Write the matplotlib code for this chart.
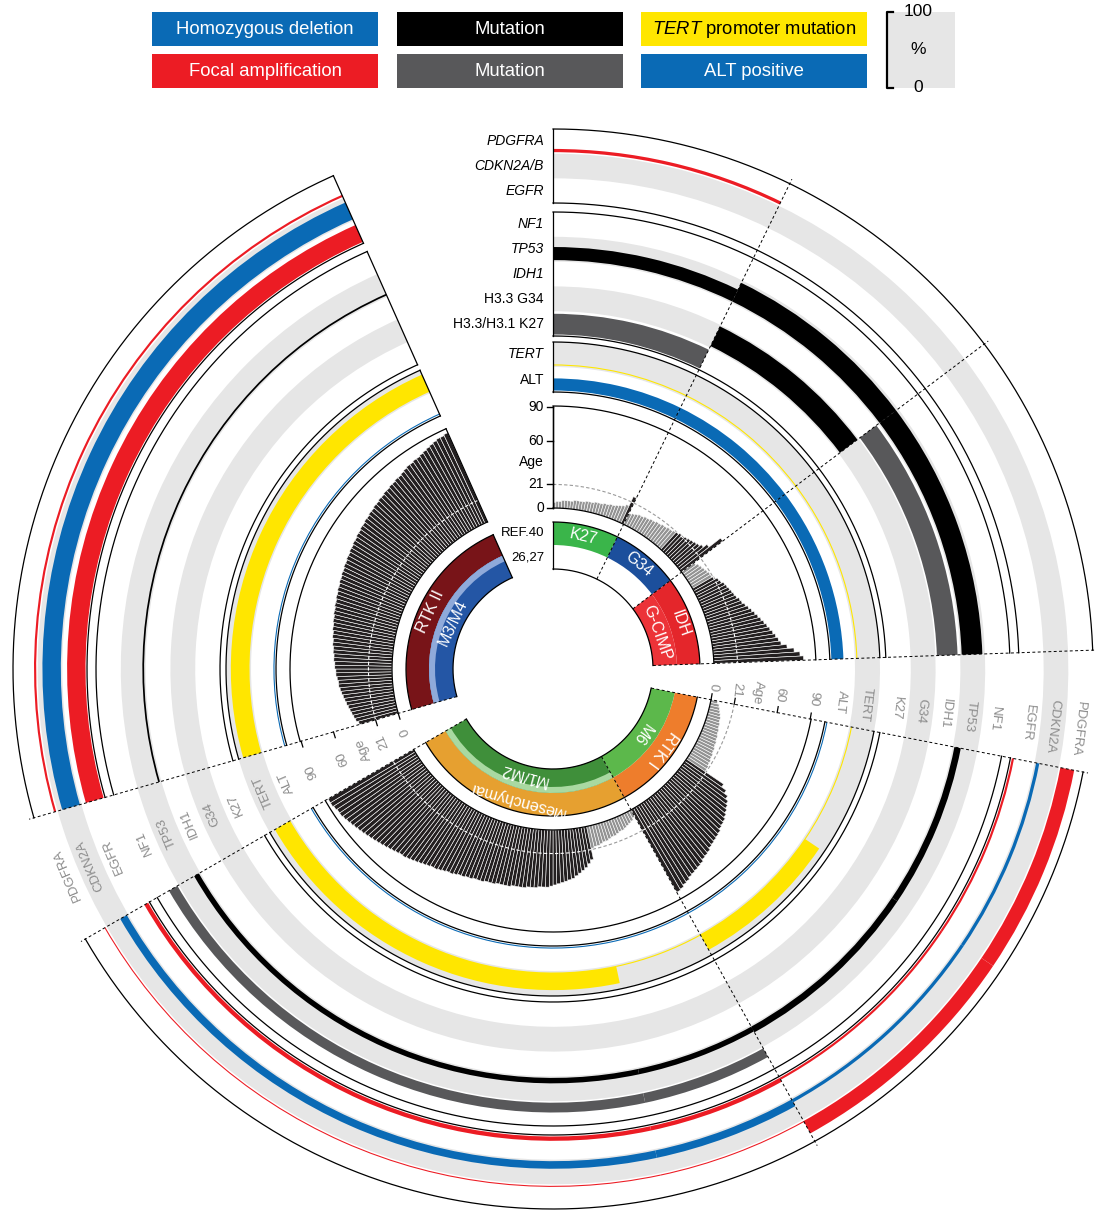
import numpy as np
import matplotlib.pyplot as plt
from matplotlib.patches import Rectangle

plt.rcParams['font.family'] = ['Liberation Sans', 'DejaVu Sans']
plt.rcParams['mathtext.fontset'] = 'custom'
plt.rcParams['mathtext.rm'] = 'Liberation Sans'
plt.rcParams['mathtext.it'] = 'Liberation Sans:italic'

# subgroups, clockwise from 12 o'clock
subgroups = ["K27", "G34", "IDH", "RTK I", "Mesenchymal", "RTK II"]
meth_labels = ["", "", "G-CIMP", "M6", "M1/M2", "M3/M4"]

# age of each tumour (one bar per tumour, sorted inside each subgroup)
ages_k27 = [5, 6, 6, 7, 7, 7, 7, 8, 8, 8, 8, 9, 9, 9, 10, 10, 10, 11, 11, 12, 12, 13, 14, 15, 17, 26]
ages_g34 = [11, 12, 13, 14, 14, 15, 15, 16, 16, 17, 17, 18, 18, 19, 19, 20,
            21, 22, 22, 23, 24, 25, 26, 27, 29, 33, 46]
ages_idh = [14, 16, 17, 18, 19, 20, 20,
            22, 24, 25, 27, 28, 29, 30, 31, 32, 34, 35, 37, 39, 41, 43, 45, 47, 49, 51,
            53, 55, 57, 59, 61, 66, 72, 77, 80]
ages_rtk1 = [6, 8, 9, 10, 11, 12, 12, 13, 13, 14, 14, 15, 15, 16, 16, 17, 17, 18, 18, 19,
             19, 20, 20,
             40, 45, 49, 52, 54, 56, 58, 60, 61, 62, 64, 65, 66, 67, 68, 70, 71, 72, 74, 75,
             76, 77, 78, 80, 81, 83, 84]
ages_mes = [7, 9, 10, 11, 12, 13, 13, 14, 15, 15, 16, 17, 17, 18, 19, 19, 20,
            30, 33, 36, 38, 40, 42, 44, 45, 46, 47, 48, 49, 50, 51,
            51, 51, 52, 52, 52, 53, 53, 53, 53, 54, 54, 54, 54, 55, 55, 55, 56, 56, 56, 57, 57,
            58, 58, 59, 60, 60, 61, 62, 63, 63, 64, 65, 66, 67, 68, 69, 70, 70,
            71, 72, 73, 74, 75, 76, 77, 78, 79, 80, 81, 82, 83, 84, 85, 86, 86, 87, 88, 88]
ages_rtk2 = [36, 38, 39, 40, 41, 42, 43, 44, 45, 46, 47, 48, 48, 49, 50, 50, 51, 51, 52, 52,
             53, 53, 54, 54, 55, 55, 56, 56, 57, 57, 58, 58, 59, 59, 60, 60, 61, 61, 62, 62,
             63, 63, 64, 64, 65, 65, 66, 66, 67, 67, 68, 68, 69, 69, 70, 70, 71, 71, 72, 72,
             73, 73, 74, 74, 75, 75, 76, 76, 77, 78, 79, 79, 80, 80, 81, 82, 83, 84, 85, 86,
             86, 87]

# blocks (consecutive tumours) with one alteration frequency each:
# K27, G34, IDH, RTK I <21, RTK I adult, Mes <21, Mes adult, RTK II
block_sizes = [26, 27, 35, 23, 27, 17, 72, 82]
# % of tumours with the alteration in each block
pct_pdgfra = [15, 0, 0, 65, 65, 5, 5, 10]
pct_cdkn2a = [0, 0, 0, 15, 15, 35, 35, 85]
pct_egfr = [0, 0, 0, 10, 10, 20, 20, 85]
pct_nf1 = [0, 0, 0, 0, 0, 45, 45, 0]
pct_tp53 = [60, 95, 95, 30, 30, 25, 25, 8]
pct_idh1 = [0, 0, 95, 0, 0, 0, 0, 0]
pct_g34 = [0, 100, 0, 0, 0, 0, 0, 0]
pct_k27 = [95, 0, 0, 0, 0, 0, 0, 0]
pct_tert = [5, 5, 5, 5, 80, 5, 80, 85]
pct_alt = [55, 55, 55, 5, 5, 5, 5, 5]

track_names = ["PDGFRA", "CDKN2A", "EGFR", "NF1", "TP53", "IDH1", "G34", "K27", "TERT", "ALT"]
row_labels = ["PDGFRA", "CDKN2A/B", "EGFR", "NF1", "TP53", "IDH1", "H3.3 G34",
              "H3.3/H3.1 K27", "TERT", "ALT"]
row_italic = [True, True, True, True, True, True, False, False, True, False]
age_ticks = [0, 21, 60, 90]

# colours
BLUE, RED, YEL, DG, BLK = '#0A6AB5', '#EC1C24', '#FFE600', '#58585A', '#000000'
SHADE = '#E6E6E6'
track_colors = [RED, BLUE, RED, DG, BLK, DG, BLK, DG, YEL, BLUE]
track_shaded = [False, True, False, False, True, False, True, False, True, False]
outer_cols = ['#3AB54A', '#1C4F9C', '#E4262B', '#EE7D2C', '#E6A030', '#781418']
inner_cols = [None, None, '#EC3338', '#5CB84B', '#3F8F3A', '#2456A5']
sep_cols = [None, None, None, None, '#A9D9A1', '#8FAADA']

# ---- geometry (pixels) ----
W, H = 1095, 1215
CX, CY, RMAX = 553, 669, 548
STEP = 1.0                      # degrees per tumour
sectors = [[0, 1, 2], [3, 4], [5]]
sector_start = [0, 101, 254]    # degrees clockwise from top
GAP_LABEL_T = [96.5, 247]
R_IN, R_MID, R_SEP, R_OUT = 100, 124, 118, 147
A0, A90 = 161, 262
boxes = [(466, 540, 3), (333, 457, 5), (277, 327, 2)]

fig = plt.figure(figsize=(W / 100, H / 100), dpi=100)
ax = fig.add_axes([(CX - RMAX) / W, (H - CY - RMAX) / H, 2 * RMAX / W, 2 * RMAX / H],
                  projection='polar')
ax.set_theta_zero_location('N')
ax.set_theta_direction(-1)
ax.set_ylim(0, RMAX)
ax.set_axis_off()
D = np.deg2rad


def band(t0, t1, r0, r1, color, z=2):
    ax.bar(D((t0 + t1) / 2), r1 - r0, width=D(t1 - t0), bottom=r0, color=color,
           linewidth=0, zorder=z)


def arc(t0, t1, r, **kw):
    th = D(np.linspace(t0, t1, max(2, int(abs(t1 - t0) * 4))))
    ax.plot(th, np.full(th.shape, float(r)), **kw)


def radial(t, r0, r1, **kw):
    ax.plot([D(t), D(t)], [r0, r1], **kw)


def age_r(a):
    return A0 + (A90 - A0) * np.asarray(a) / 90.0


# track radii from outer to inner
track_r = []
for r0, r1, n in boxes:
    w = (r1 - r0) / n
    for k in range(n):
        track_r.append((r1 - (k + 1) * w, r1 - k * w))

# sample positions
ages_by_group = [ages_k27, ages_g34, ages_idh, ages_rtk1, ages_mes, ages_rtk2]
thetas, ages, group_span, sector_span = [], [], [], []
for s, gs in enumerate(sectors):
    t = sector_start[s]
    for g in gs:
        n = len(ages_by_group[g])
        group_span.append((t, t + n * STEP))
        thetas += list(t + STEP * (np.arange(n) + 0.5))
        ages += ages_by_group[g]
        t += n * STEP
    sector_span.append((sector_start[s], t))
thetas = np.array(thetas)
ages = np.array(ages, dtype=float)

edges = np.cumsum([0] + block_sizes)
block_span = [(thetas[edges[k]] - STEP / 2, thetas[edges[k + 1] - 1] + STEP / 2)
              for k in range(len(block_sizes))]

# background shading of alternating tracks
last_t = sector_span[-1][1]
for (r0, r1), sh in zip(track_r, track_shaded):
    if sh:
        band(0, last_t, r0, r1, SHADE, z=1)

# alteration bars
pcts = [pct_pdgfra, pct_cdkn2a, pct_egfr, pct_nf1, pct_tp53, pct_idh1, pct_g34,
        pct_k27, pct_tert, pct_alt]
for (r0, r1), col, pc in zip(track_r, track_colors, pcts):
    full = (r1 - r0) - 3
    for (t0, t1), p in zip(block_span, pc):
        if p > 0:
            band(t0, t1, r0 + 1.5, r0 + 1.5 + full * p / 100.0, col, z=2)

# box outlines per sector
for t0, t1 in sector_span:
    for r0, r1, n in boxes + [(A0, A90 + 1, 1), (R_IN, R_OUT, 1)]:
        arc(t0, t1, r0, color='k', lw=0.9, zorder=4)
        arc(t0, t1, r1, color='k', lw=0.9, zorder=4)
for t in (0, sector_span[-1][1]):
    for r0, r1, n in boxes + [(A0, A90 + 1, 1), (R_IN, R_OUT, 1)]:
        radial(t, r0, r1, color='k', lw=0.9, zorder=4)

# age bars
bar_cols = np.where(ages < 21, '#939393', '#231F20')
ax.bar(D(thetas), age_r(ages) - A0, width=D(STEP), bottom=A0, color=bar_cols,
       edgecolor='white', linewidth=0.4, zorder=2)
# 21-year circle: grey over the empty part, white over the adult bars
for t0, t1 in sector_span:
    arc(t0, t1, age_r(21), color='#9A9A9A', lw=0.8, ls=(0, (3, 2)), zorder=1.5)
adult = ages >= 21
k = 0
while k < len(ages):
    if adult[k]:
        j = k
        while j + 1 < len(ages) and adult[j + 1] and thetas[j + 1] - thetas[j] < 1.5 * STEP:
            j += 1
        arc(thetas[k] - STEP / 2, thetas[j] + STEP / 2, age_r(21), color='white', lw=0.8,
            ls=(0, (3, 2)), zorder=3)
        k = j + 1
    else:
        k += 1

# subgroup / methylation ring
for g, (t0, t1) in enumerate(group_span):
    band(t0, t1, R_MID, R_OUT, outer_cols[g])
    if inner_cols[g]:
        band(t0, t1, R_IN, R_MID, inner_cols[g])
    if sep_cols[g]:
        band(t0, t1, R_SEP, R_MID, sep_cols[g])
    tm = (t0 + t1) / 2
    ax.text(D(tm), (R_MID + R_OUT) / 2, subgroups[g], rotation=-tm, rotation_mode='anchor',
            ha='center', va='center', color='white', fontsize=11.5, zorder=5)
    if meth_labels[g]:
        ax.text(D(tm), (R_IN + R_SEP) / 2 + 1, meth_labels[g], rotation=-tm,
                rotation_mode='anchor', ha='center', va='center', color='white',
                fontsize=11.5, zorder=5)

# dashed radial separators: subgroup borders and sector gaps
dash = dict(color='k', lw=0.7, ls=(0, (3, 2.5)), zorder=6)
for t in [group_span[0][1], group_span[1][1], group_span[3][1]]:
    radial(t, R_IN, 545, **dash)
for t0, t1 in sector_span[:2]:
    radial(t1, R_IN, 545, **dash)
for t0, t1 in sector_span[1:]:
    radial(t0, R_IN, 545, **dash)

# age ticks on the sector edges inside the gaps
for t in [sector_span[1][0], sector_span[2][0]]:
    for a in age_ticks:
        r = age_r(a)
        ax.plot([D(t), D(t) - 6.0 / r], [r, r], color='k', lw=0.9, zorder=6)

# grey labels inside the gaps
gap_names = ["PDGFRA", "CDKN2A", "EGFR", "NF1", "TP53", "IDH1", "G34", "K27", "TERT", "ALT"]
for tg in GAP_LABEL_T:
    for (r0, r1), nm in zip(track_r, gap_names):
        ax.text(D(tg), (r0 + r1) / 2, nm, rotation=-tg, rotation_mode='anchor',
                ha='center', va='center', color='#8C8C8C', fontsize=9.5, zorder=6)
    for a in age_ticks:
        ax.text(D(tg), age_r(a), str(a), rotation=-tg, rotation_mode='anchor',
                ha='center', va='center', color='#8C8C8C', fontsize=9.5, zorder=6)
    ax.text(D(tg), age_r(40), "Age", rotation=-tg, rotation_mode='anchor',
            ha='center', va='center', color='#8C8C8C', fontsize=9.5, zorder=6)

# ---- overlay: row labels and legend ----
ov = fig.add_axes([0, 0, 1, 1])
ov.set_xlim(0, W)
ov.set_ylim(H, 0)
ov.axis('off')

for (r0, r1), lab, it in zip(track_r, row_labels, row_italic):
    ov.text(CX - 9, CY - (r0 + r1) / 2, lab, ha='right', va='center', fontsize=10,
            style='italic' if it else 'normal')
for a in age_ticks:
    y = CY - age_r(a)
    ov.plot([CX - 6, CX], [y, y], color='k', lw=1)
    ov.text(CX - 9, y, str(a), ha='right', va='center', fontsize=10)
ov.plot([CX, CX], [CY - age_r(0), CY - age_r(90)], color='k', lw=1)
ov.text(CX - 9, CY - age_r(40) - 1, "Age", ha='right', va='center', fontsize=10)
ov.text(CX - 9, CY - (R_MID + R_OUT) / 2, "REF.40", ha='right', va='center', fontsize=9.5)
ov.text(CX - 9, CY - (R_IN + R_MID) / 2, "26,27", ha='right', va='center', fontsize=9.5)

legend = [("Homozygous deletion", BLUE, 'white'), ("Mutation", BLK, 'white'),
          ("$\\it{TERT}$ promoter mutation", YEL, 'black'),
          ("Focal amplification", RED, 'white'), ("Mutation", DG, 'white'),
          ("ALT positive", BLUE, 'white')]
leg_x = [152, 397, 641]
leg_y = [12, 54]
for i, (txt, col, tc) in enumerate(legend):
    x0, y0 = leg_x[i % 3], leg_y[i // 3]
    ov.add_patch(Rectangle((x0, y0), 226, 34, color=col, lw=0))
    ov.text(x0 + 113, y0 + 17, txt, ha='center', va='center', color=tc, fontsize=13.3)
ov.add_patch(Rectangle((887, 12), 68, 76, color=SHADE, lw=0))
ov.plot([893, 887, 887, 893], [12, 12, 88, 88], color='k', lw=1.6)
ov.text(918, 12, "100", ha='center', va='center', fontsize=12.5)
ov.text(918, 50, "%", ha='center', va='center', fontsize=12.5)
ov.text(918, 87, "0", ha='center', va='center', fontsize=12.5)

fig.savefig('out.png', dpi=100)
